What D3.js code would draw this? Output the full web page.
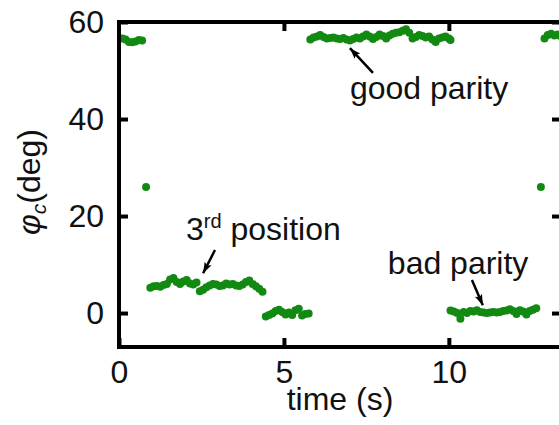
<!DOCTYPE html>
<html><head><meta charset="utf-8">
<script src="https://cdn.jsdelivr.net/npm/d3@7"></script>
<style>
html,body{margin:0;padding:0;background:#fff;}
svg{display:block;}
text{font-family:"Liberation Sans",Arial,sans-serif;fill:#111;}
</style></head>
<body>
<svg id="chart" width="559" height="425"></svg>
<script>
// ---- data (time in s, angle in deg) ----
const segATime = [0.1,0.2,0.3,0.4,0.5,0.6,0.7];
const segAVal  = [56.6,56.4,55.9,55.8,56.0,56.3,56.2];
const jump1Time = [0.82];
const jump1Val  = [26.0];
const segBTime = [0.95,1.05,1.15,1.25,1.35,1.45,1.55,1.65,1.75,1.85,1.95,2.05,2.15,2.25,2.35,2.45,2.55,2.65,2.75,2.85,2.95,3.05,3.15,3.25,3.35,3.45,3.55,3.65,3.75,3.85,3.95,4.05,4.15,4.25,4.35];
const segBVal  = [5.2,5.5,5.6,5.4,5.8,6.0,6.9,7.2,6.4,6.0,6.5,6.8,6.1,5.9,6.3,4.5,4.8,5.3,5.7,6.0,5.9,5.6,5.7,6.1,5.9,6.0,5.7,5.6,5.9,6.4,6.7,6.0,5.5,5.0,4.4];
const segCTime = [4.45,4.55,4.65,4.75,4.85,4.95,5.05,5.15,5.25,5.35,5.45,5.55,5.65,5.75];
const segCVal  = [-0.7,-0.4,-0.1,0.4,0.7,0.2,-0.3,0.1,-0.4,0.6,0.9,-0.5,-0.2,-0.1];
const segDTime = [5.8,5.9,6.0,6.1,6.2,6.3,6.4,6.5,6.6,6.7,6.8,6.9,7.0,7.1,7.2,7.3,7.4,7.5,7.6,7.7,7.8,7.9,8.0,8.1,8.2,8.3,8.4,8.5,8.6,8.7,8.8,8.9,9.0,9.1,9.2,9.3,9.4,9.5,9.6,9.7,9.8,9.9,10.0,10.05];
const segDVal  = [56.4,56.8,57.0,57.3,56.9,56.6,56.7,56.8,56.6,56.5,56.7,56.4,56.2,56.5,56.8,56.6,57.0,57.4,57.0,56.5,56.9,57.4,57.1,56.6,57.2,57.6,57.8,57.9,58.2,58.5,57.8,56.6,56.9,57.3,57.1,56.8,57.0,56.4,55.9,56.6,56.8,57.0,56.6,56.3];
const segETime = [10.05,10.15,10.25,10.35,10.45,10.55,10.65,10.75,10.85,10.95,11.05,11.15,11.25,11.35,11.45,11.55,11.65,11.75,11.85,11.95,12.05,12.15,12.25,12.35,12.45,12.55,12.65];
const segEVal  = [0.5,0.3,0.0,-1.2,0.2,0.0,0.4,0.3,0.6,0.2,0.1,0.0,0.1,0.2,0.1,0.2,0.4,0.5,0.8,0.4,-0.2,0.6,0.3,-0.3,0.4,0.7,1.0];
const jump2Time = [12.79];
const jump2Val  = [26.0];
const segFTime = [12.9,13.0,13.1,13.2,13.3,13.4];
const segFVal  = [56.6,57.3,57.6,57.2,57.4,57.0];

const xTicks = [0,5,10];
const yTicks = [0,20,40,60];

// annotations in data coordinates
const labels = [
  {id:"good", text:"good parity", t:7.0, v:44.2, tail:[7.7,49.5], head:[7.0,54.6]},
  {id:"bad",  text:"bad parity",  t:8.15, v:8.1, tail:[10.7,6.8], head:[11.03,1.6]},
  {id:"third",text:"position",    t:2.03, v:15.0, tail:[2.91,13.0], head:[2.55,8.2]}
];

// ---- chart ----
const svg = d3.select("#chart");
const x = d3.scaleLinear().domain([0,13.4]).range([119,561]);
const y = d3.scaleLinear().domain([-7,60]).range([347,22]);
const green = "#128a12";

const segs = [
  [segATime,segAVal],[jump1Time,jump1Val],[segBTime,segBVal],[segCTime,segCVal],
  [segDTime,segDVal],[segETime,segEVal],[jump2Time,jump2Val],[segFTime,segFVal]
];
const pts = [];
segs.forEach(([ts,vs]) => ts.forEach((t,i)=>pts.push({t, v:vs[i]})));

svg.append("defs").append("clipPath").attr("id","clip")
  .append("rect").attr("x",x(0)).attr("y",y(60)).attr("width",x(13.4)-x(0)).attr("height",y(-7)-y(60));

svg.append("g").attr("clip-path","url(#clip)")
  .selectAll("circle").data(pts).join("circle")
  .attr("cx",d=>x(d.t)).attr("cy",d=>y(d.v)).attr("r",4).attr("fill",green);

// axes
const fs = 32;
function styleAxis(g){
  g.select(".domain").remove();
  g.selectAll(".tick line").attr("stroke","#000").attr("stroke-width",4);
  g.selectAll(".tick text").attr("font-size",fs).attr("fill","#111")
    .attr("font-family","'Liberation Sans',Arial,sans-serif");
}
svg.append("g").attr("transform",`translate(0,${y(-7)})`)
  .call(d3.axisBottom(x).tickValues(xTicks).tickSize(-9).tickPadding(13).tickFormat(d3.format("d")))
  .call(styleAxis);
svg.append("g").attr("transform",`translate(0,${y(60)})`)
  .call(d3.axisTop(x).tickValues(xTicks.slice(1)).tickSize(-9).tickFormat(""))
  .call(styleAxis);
svg.append("g").attr("transform",`translate(${x(0)},0)`)
  .call(d3.axisLeft(y).tickValues(yTicks).tickSize(-9).tickPadding(15).tickFormat(d3.format("d")))
  .call(styleAxis);
svg.append("g").attr("transform",`translate(${x(13.4)},0)`)
  .call(d3.axisRight(y).tickValues(yTicks).tickSize(-9).tickFormat(""))
  .call(styleAxis);

// frame
svg.append("rect").attr("x",x(0)).attr("y",y(60)).attr("width",x(13.4)-x(0)).attr("height",y(-7)-y(60))
  .attr("fill","none").attr("stroke","#000").attr("stroke-width",4);

// axis titles
svg.append("text").attr("x",(x(0)+x(13.4))/2).attr("y",410).attr("text-anchor","middle")
  .attr("font-size",fs).text("time (s)");
const yl = svg.append("text").attr("transform",`translate(40,${y(27)}) rotate(-90)`)
  .attr("text-anchor","middle").attr("font-size",fs);
yl.append("tspan").attr("font-style","italic").text("φ");
yl.append("tspan").attr("font-style","italic").attr("font-size",21).attr("dy",6).text("c");
yl.append("tspan").attr("dy",-6).text("(deg)");

// annotations
svg.append("defs").append("marker").attr("id","arr").attr("viewBox","0 0 10 10")
  .attr("refX",10).attr("refY",5).attr("markerWidth",11).attr("markerHeight",11)
  .attr("markerUnits","userSpaceOnUse").attr("orient","auto")
  .append("path").attr("d","M0,1.5 L10,5 L0,8.5 L2,5 Z").attr("fill","#000");

labels.forEach(l=>{
  svg.append("line").attr("x1",x(l.tail[0])).attr("y1",y(l.tail[1]))
    .attr("x2",x(l.head[0])).attr("y2",y(l.head[1]))
    .attr("stroke","#000").attr("stroke-width",2.5).attr("marker-end","url(#arr)");
  if(l.id==="third"){
    const t = svg.append("text").attr("x",x(l.t)).attr("y",y(l.v)).attr("font-size",fs);
    t.append("tspan").text("3");
    t.append("tspan").attr("font-size",20).attr("dy",-12).text("rd");
    t.append("tspan").attr("dy",12).text(" position");
  } else {
    svg.append("text").attr("x",x(l.t)).attr("y",y(l.v)).attr("font-size",fs).text(l.text);
  }
});
</script>
</body></html>
